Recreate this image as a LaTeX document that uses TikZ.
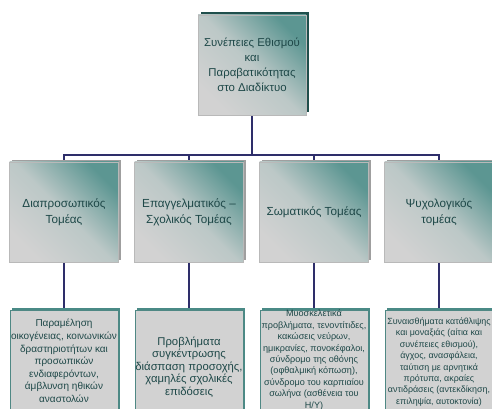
\documentclass[tikz,border=0pt]{standalone}
\usepackage{fontspec}
\setmainfont{Liberation Sans}
\usetikzlibrary{shadows,backgrounds}
\definecolor{tealdark}{HTML}{1F4F4C}
\definecolor{tealmid}{HTML}{5C9692}
\definecolor{boxgray}{HTML}{D2D2D2}
\definecolor{boxmid}{HTML}{BCC8C7}
\definecolor{txtcol}{HTML}{1E4848}
\definecolor{conncol}{HTML}{2E2E6A}
\definecolor{leafedge}{HTML}{4F8884}
\definecolor{leafshadow}{HTML}{4A8A86}
\begin{document}
\begin{tikzpicture}[x=1pt,y=1pt,
  conn/.style={draw=conncol, line width=2.3pt},
  gradbox/.style={minimum width=108pt, minimum height=100pt, inner sep=0pt,
    draw=gray!55, line width=0.6pt,
    bottom color=boxgray, top color=tealmid, middle color=boxmid, shading angle=-45,
    text=txtcol, align=center},
  rootbox/.style={gradbox, general shadow={fill=tealdark, shadow xshift=3pt, shadow yshift=3pt},
    font=\fontsize{11.4}{15}\selectfont},
  midbox/.style={gradbox, minimum width=109pt, general shadow={fill=gray!75, shadow xshift=2pt, shadow yshift=2pt},
    font=\fontsize{11.7}{16}\selectfont},
  leafbox/.style={minimum width=108pt, minimum height=106pt, inner sep=0pt,
    fill=boxgray, draw=leafedge, line width=0.8pt,
    general shadow={fill=leafshadow, shadow xshift=2pt, shadow yshift=2pt}},
  leaftext/.style={text=txtcol, align=center, inner sep=0pt}
]
\path[use as bounding box] (0,0) rectangle (492,409);
\clip (0,0) rectangle (492,409);
\coordinate (bar) at (252,254);

\node[rootbox] (root) at (252,344) {Συνέπειες Εθισμού\\και\\Παραβατικότητας\\στο Διαδίκτυο};

\node[midbox] (m1) at (64,197) {Διαπροσωπικός\\Τομέας};
\node[midbox] (m2) at (189,197) {Επαγγελματικός –\\Σχολικός Τομέας};
\node[midbox] (m3) at (314,197) {Σωματικός Τομέας};
\node[midbox] (m4) at (439,197) {Ψυχολογικός\\τομέας};

\node[leafbox] (b1) at (64,46) {};
\node[leafbox] (b2) at (189,46) {};
\node[leafbox] (b3) at (314,46) {};
\node[leafbox] (b4) at (439,46) {};

\begin{scope}[on background layer]
\foreach \i in {1,2,3,4}{
  \draw[conn] (root.south) -- (root.south |- bar) -| (m\i.north);
  \draw[conn] (m\i.south) -- (b\i.north);
}
\end{scope}

\node[leaftext, font=\fontsize{10}{12.6}\selectfont] (t1) at (64,48) {Παραμέληση\\οικογένειας, κοινωνικών\\δραστηριοτήτων και\\προσωπικών\\ενδιαφερόντων,\\άμβλυνση ηθικών\\αναστολών};
\node[leaftext, font=\fontsize{11.3}{12.6}\selectfont] (t2) at (189,42) {Προβλήματα\\συγκέντρωσης\\διάσπαση προσοχής,\\χαμηλές σχολικές\\επιδόσεις};
\node[leaftext, font=\fontsize{9.1}{11.4}\selectfont] (t3) at (314,49) {Μυοσκελετικά\\προβλήματα, τενοντίτιδες,\\κακώσεις νεύρων,\\ημικρανίες, πονοκέφαλοι,\\σύνδρομο της οθόνης\\(οφθαλμική κόπωση),\\σύνδρομο του καρπιαίου\\σωλήνα (ασθένεια του\\Η/Υ)};
\node[leaftext, font=\fontsize{8.9}{11.4}\selectfont] (t4) at (439,47) {Συναισθήματα κατάθλιψης\\και μοναξιάς (αίτια και\\συνέπειες εθισμού),\\άγχος, ανασφάλεια,\\ταύτιση με αρνητικά\\πρότυπα, ακραίες\\αντιδράσεις (αντεκδίκηση,\\επιληψία, αυτοκτονία)};
\end{tikzpicture}
\end{document}
